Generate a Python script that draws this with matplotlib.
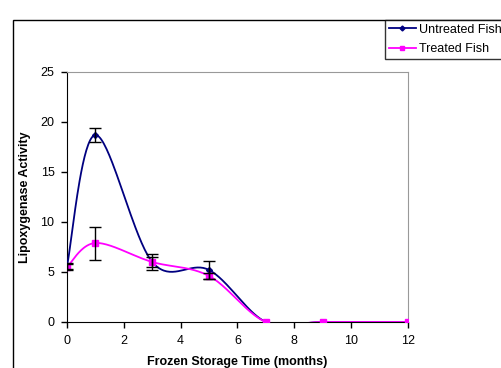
import numpy as np
import matplotlib
matplotlib.use("Agg")
import matplotlib.pyplot as plt
from matplotlib.patches import Rectangle
from matplotlib.lines import Line2D

plt.rcParams['font.family'] = ['Liberation Sans', 'DejaVu Sans']

months = [0, 1, 3, 5, 7, 9, 12]
untreated = [5.6, 18.7, 6.0, 5.2, 0, 0, 0]
untreated_err = [0.3, 0.7, 0.8, 0.9, 0, 0, 0]
treated = [5.5, 7.9, 6.0, 4.6, 0, 0, 0]
treated_err = [0.3, 1.65, 0.5, 0.3, 0, 0, 0]
labels = ["Untreated Fish", "Treated Fish"]


def smooth(x, y, n=40):
    x = np.asarray(x, float)
    y = np.asarray(y, float)
    px = np.concatenate([[x[0]], x, [x[-1]]])
    py = np.concatenate([[y[0]], y, [y[-1]]])
    xs, ys = [], []
    t = np.linspace(0, 1, n)
    for i in range(1, len(px) - 2):
        p0 = np.array([px[i], py[i]])
        p3 = np.array([px[i + 1], py[i + 1]])
        p1 = p0 + (np.array([px[i + 1], py[i + 1]]) - np.array([px[i - 1], py[i - 1]])) / 6
        p2 = p3 - (np.array([px[i + 2], py[i + 2]]) - np.array([px[i], py[i]])) / 6
        b = ((1 - t) ** 3)[:, None] * p0 + (3 * (1 - t) ** 2 * t)[:, None] * p1 \
            + (3 * (1 - t) * t ** 2)[:, None] * p2 + (t ** 3)[:, None] * p3
        xs.extend(b[:, 0]); ys.extend(b[:, 1])
    return np.array(xs), np.array(ys)


fig = plt.figure(figsize=(5.02, 3.68), dpi=100)
ax = fig.add_axes([67 / 502, 1 - 322 / 368, (408 - 67) / 502, (322 - 72) / 368])

navy = '#000080'
mag = '#FF00FF'

sx, sy = smooth(months, untreated)
ax.plot(sx, sy, color=navy, lw=1.3, zorder=3)
ax.plot(months, untreated, ls='none', marker='D', ms=3, color=navy, zorder=4)
ax.errorbar(months[:4], untreated[:4], yerr=untreated_err[:4], fmt='none',
            ecolor='black', elinewidth=1, capsize=4, capthick=1, zorder=5)

sx, sy = smooth(months, treated)
ax.plot(sx, sy, color=mag, lw=1.3, zorder=3)
ax.plot(months, treated, ls='none', marker='s', ms=4, color=mag, zorder=4)
ax.errorbar(months[:4], treated[:4], yerr=treated_err[:4], fmt='none',
            ecolor='black', elinewidth=1, capsize=4, capthick=1, zorder=5)

ax.set_xlim(0, 12)
ax.set_ylim(0, 25)
ax.set_xticks(range(0, 13, 2))
ax.set_yticks(range(0, 26, 5))
ax.tick_params(direction='out', length=4, width=1, labelsize=9, colors='black', pad=5)
for s in ['top', 'right']:
    ax.spines[s].set_color('#999999')
for s in ['left', 'bottom']:
    ax.spines[s].set_color('black')
ax.set_xlabel('Frozen Storage Time (months)', fontsize=9, fontweight='bold', labelpad=7)
ax.set_ylabel('Lipoxygenase Activity', fontsize=9, fontweight='bold', labelpad=7)

# outer chart frame
fig.patches.append(Rectangle((13 / 502, -0.1), 1.2, 1 - 20 / 368 + 0.1,
                             transform=fig.transFigure, fill=False, ec='black', lw=1))

# legend
handles = [Line2D([], [], color=navy, marker='D', ms=2.5, lw=1.3),
           Line2D([], [], color=mag, marker='s', ms=3.5, lw=1.3)]
leg = fig.legend(handles, labels, loc='upper left', bbox_to_anchor=(385 / 502, 1 - 20 / 368),
                 fontsize=9, frameon=True, fancybox=False, edgecolor='black',
                 handlelength=2.2, handletextpad=0.25, borderpad=0.3, labelspacing=0.6,
                 borderaxespad=0)
leg.get_frame().set_linewidth(1)

fig.savefig('out.png', dpi=100)
